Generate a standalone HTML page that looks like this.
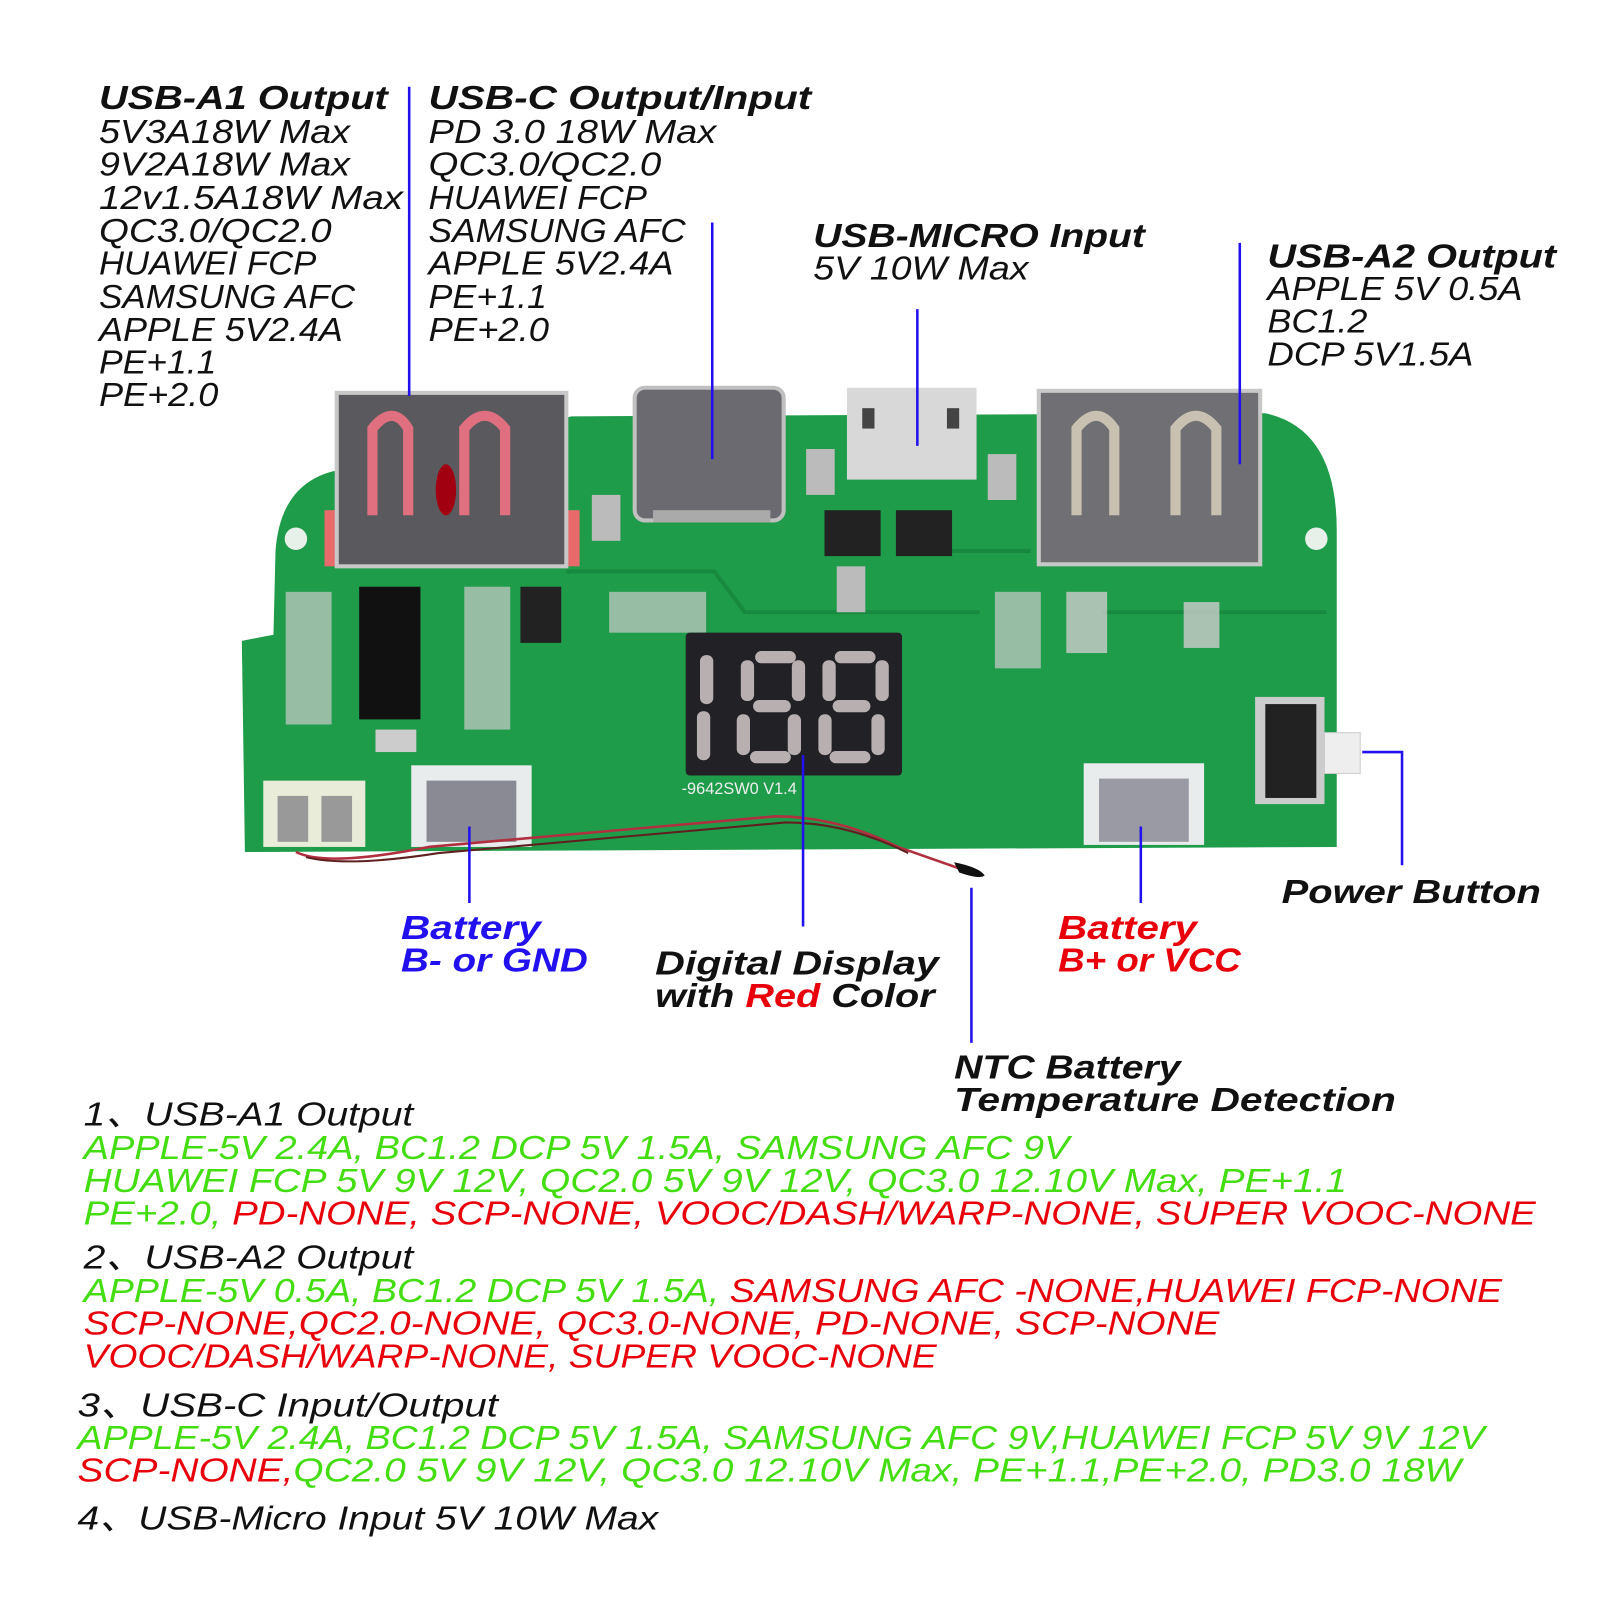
<!DOCTYPE html>
<html><head><meta charset="utf-8"><style>
html,body{margin:0;padding:0;background:#fff;}
svg{display:block}
text{font-family:"Liberation Sans",sans-serif;font-style:italic;}
.h{font-weight:bold;font-size:33px;fill:#111}
.t{font-size:33px;fill:#111}
.g{fill:#44dd11}.r{fill:#e8000b}.b{fill:#2211ee}
</style></head><body>
<svg width="1600" height="1600" viewBox="0 0 1568 1568" xmlns="http://www.w3.org/2000/svg">
<rect width="1568" height="1568" fill="#fff"/>
<path d="M237 628 L268 622 L270 540 Q275 470 335 460 L560 408 L1240 405 Q1310 420 1310 520 L1310 830 L240 835 Z" fill="#1e9c4a"/>
<path d="M555 560 L700 560 L730 600 L960 600" stroke="#178a3f" stroke-width="4" fill="none"/>
<path d="M880 540 L1010 540 M1080 600 L1300 600" stroke="#178a3f" stroke-width="4" fill="none"/>
<circle cx="290" cy="528" r="11" fill="#e8f0ea"/><circle cx="1290" cy="528" r="11" fill="#e8f0ea"/>
<rect x="318" y="500" width="18" height="55" fill="#e86a6a"/><rect x="550" y="500" width="18" height="55" fill="#e86a6a"/>
<rect x="330" y="385" width="225" height="170" fill="#5a5a5e" stroke="#c8c8c8" stroke-width="4"/>
<path d="M365 505 L365 420 Q385 395 400 420 L400 505 M455 505 L455 420 Q475 395 495 420 L495 505" stroke="#e07080" stroke-width="10" fill="none"/>
<ellipse cx="437" cy="480" rx="10" ry="25" fill="#a00010"/>
<rect x="622" y="380" width="146" height="130" rx="10" fill="#6a6a70" stroke="#c0c0c0" stroke-width="4"/>
<rect x="640" y="500" width="115" height="12" fill="#aaa"/>
<rect x="830" y="380" width="127" height="90" fill="#d8d8d8"/>
<rect x="845" y="400" width="12" height="20" fill="#444"/><rect x="928" y="400" width="12" height="20" fill="#444"/>
<rect x="1018" y="383" width="217" height="170" fill="#707074" stroke="#c8c8c8" stroke-width="4"/>
<path d="M1055 505 L1055 420 Q1075 395 1092 420 L1092 505 M1152 505 L1152 420 Q1172 395 1192 420 L1192 505" stroke="#c8c0b0" stroke-width="10" fill="none"/>
<rect x="580" y="485" width="28" height="45" fill="#bbb"/><rect x="790" y="440" width="28" height="45" fill="#bbb"/>
<rect x="968" y="445" width="28" height="45" fill="#bbb"/><rect x="808" y="500" width="55" height="45" fill="#222"/>
<rect x="878" y="500" width="55" height="45" fill="#222"/><rect x="820" y="555" width="28" height="45" fill="#bbb"/>
<rect x="352" y="575" width="60" height="130" fill="#111"/>
<rect x="280" y="580" width="45" height="130" fill="#ccc" opacity=".7"/>
<rect x="455" y="575" width="45" height="140" fill="#ccc" opacity=".7"/>
<rect x="510" y="575" width="40" height="55" fill="#222"/>
<rect x="597" y="580" width="95" height="40" fill="#ccc" opacity=".7"/>
<rect x="975" y="580" width="45" height="75" fill="#ccc" opacity=".7"/>
<rect x="1045" y="580" width="40" height="60" fill="#ccc" opacity=".8"/>
<rect x="1160" y="590" width="35" height="45" fill="#ccc" opacity=".8"/>
<rect x="368" y="715" width="40" height="22" fill="#ccc"/>
<rect x="672" y="620" width="212" height="140" rx="4" fill="#222226"/>
<g fill="#b8b0b0">
<rect x="686" y="642" width="13" height="48" rx="6"/><rect x="683" y="697" width="13" height="48" rx="6"/>
<rect x="740" y="638" width="40" height="12" rx="6"/><rect x="738" y="686" width="37" height="12" rx="6"/><rect x="735" y="736" width="40" height="12" rx="6"/>
<rect x="726" y="647" width="13" height="40" rx="6"/><rect x="776" y="647" width="13" height="40" rx="6"/>
<rect x="722" y="700" width="13" height="40" rx="6"/><rect x="772" y="700" width="13" height="40" rx="6"/>
<rect x="818" y="638" width="40" height="12" rx="6"/><rect x="816" y="686" width="37" height="12" rx="6"/><rect x="813" y="736" width="40" height="12" rx="6"/>
<rect x="806" y="647" width="13" height="40" rx="6"/><rect x="858" y="647" width="13" height="40" rx="6"/>
<rect x="802" y="700" width="13" height="40" rx="6"/><rect x="854" y="700" width="13" height="40" rx="6"/>
</g>
<text x="668" y="778" style="font-style:normal;font-size:16px;fill:#eee">-9642SW0 V1.4</text>
<rect x="258" y="765" width="100" height="65" fill="#e8ecd8"/><rect x="272" y="780" width="30" height="45" fill="#999"/><rect x="315" y="780" width="30" height="45" fill="#999"/>
<rect x="403" y="750" width="118" height="80" fill="#e8ecec"/><rect x="418" y="765" width="88" height="60" fill="#8a8a95"/>
<rect x="1062" y="748" width="118" height="80" fill="#e8ecec"/><rect x="1077" y="763" width="88" height="62" fill="#9a9aa5"/>
<rect x="1230" y="683" width="68" height="105" fill="#ccc"/><rect x="1240" y="690" width="50" height="92" fill="#222"/>
<rect x="1298" y="718" width="35" height="40" fill="#eee" stroke="#ccc"/>
<path d="M290 835 Q320 850 420 830 L760 800 Q820 800 880 830 L960 858" stroke="#b03040" stroke-width="2.5" fill="none"/>
<path d="M300 840 Q340 850 430 836 L770 806 Q830 806 890 836" stroke="#602020" stroke-width="2" fill="none"/>
<path d="M935 845 Q960 850 965 858 Q960 862 940 855 Z" fill="#111"/>
<g stroke="#2211ee" stroke-width="2.5" fill="none">
<path d="M401 85 V388"/><path d="M698 218 V450"/><path d="M899 303 V437"/><path d="M1215 238 V455"/>
<path d="M460 810 V885"/><path d="M787 740 V908"/><path d="M952 870 V1022"/><path d="M1118 810 V885"/>
<path d="M1335 737 H1374 V848"/>
</g>
<text class="h" x="97" y="107" textLength="283" lengthAdjust="spacingAndGlyphs">USB-A1 Output</text>
<g class="t">
<text x="97" y="140" textLength="246" lengthAdjust="spacingAndGlyphs">5V3A18W Max</text>
<text x="97" y="172" textLength="246" lengthAdjust="spacingAndGlyphs">9V2A18W Max</text>
<text x="97" y="205" textLength="298" lengthAdjust="spacingAndGlyphs">12v1.5A18W Max</text>
<text x="97" y="237" textLength="228" lengthAdjust="spacingAndGlyphs">QC3.0/QC2.0</text>
<text x="97" y="269" textLength="213" lengthAdjust="spacingAndGlyphs">HUAWEI FCP</text>
<text x="97" y="302" textLength="251" lengthAdjust="spacingAndGlyphs">SAMSUNG AFC</text>
<text x="97" y="334" textLength="239" lengthAdjust="spacingAndGlyphs">APPLE 5V2.4A</text>
<text x="97" y="366" textLength="115" lengthAdjust="spacingAndGlyphs">PE+1.1</text>
<text x="97" y="398" textLength="117" lengthAdjust="spacingAndGlyphs">PE+2.0</text>
</g>
<text class="h" x="420" y="107" textLength="375" lengthAdjust="spacingAndGlyphs">USB-C Output/Input</text>
<g class="t">
<text x="420" y="140" textLength="282" lengthAdjust="spacingAndGlyphs">PD 3.0 18W Max</text>
<text x="420" y="172" textLength="228" lengthAdjust="spacingAndGlyphs">QC3.0/QC2.0</text>
<text x="420" y="205" textLength="214" lengthAdjust="spacingAndGlyphs">HUAWEI FCP</text>
<text x="420" y="237" textLength="252" lengthAdjust="spacingAndGlyphs">SAMSUNG AFC</text>
<text x="420" y="269" textLength="240" lengthAdjust="spacingAndGlyphs">APPLE 5V2.4A</text>
<text x="420" y="302" textLength="116" lengthAdjust="spacingAndGlyphs">PE+1.1</text>
<text x="420" y="334" textLength="118" lengthAdjust="spacingAndGlyphs">PE+2.0</text>
</g>
<text class="h" x="797" y="242" textLength="325" lengthAdjust="spacingAndGlyphs">USB-MICRO Input</text>
<text class="t" x="797" y="274" textLength="211" lengthAdjust="spacingAndGlyphs">5V 10W Max</text>
<text class="h" x="1242" y="262" textLength="283" lengthAdjust="spacingAndGlyphs">USB-A2 Output</text>
<g class="t">
<text x="1242" y="294" textLength="250" lengthAdjust="spacingAndGlyphs">APPLE 5V 0.5A</text>
<text x="1242" y="326" textLength="98" lengthAdjust="spacingAndGlyphs">BC1.2</text>
<text x="1242" y="358" textLength="202" lengthAdjust="spacingAndGlyphs">DCP 5V1.5A</text>
</g>
<text class="h b" x="393" y="920" textLength="137" lengthAdjust="spacingAndGlyphs">Battery</text>
<text class="h b" x="393" y="952" textLength="183" lengthAdjust="spacingAndGlyphs">B- or GND</text>
<text class="h" x="642" y="955" textLength="278" lengthAdjust="spacingAndGlyphs">Digital Display</text>
<text class="h" x="642" y="987" textLength="274" lengthAdjust="spacingAndGlyphs">with <tspan class="r">Red</tspan> Color</text>
<text class="h r" x="1037" y="920" textLength="136" lengthAdjust="spacingAndGlyphs">Battery</text>
<text class="h r" x="1037" y="952" textLength="179" lengthAdjust="spacingAndGlyphs">B+ or VCC</text>
<text class="h" x="1256" y="885" textLength="254" lengthAdjust="spacingAndGlyphs">Power Button</text>
<text class="h" x="935" y="1057" textLength="222" lengthAdjust="spacingAndGlyphs">NTC Battery</text>
<text class="h" x="935" y="1089" textLength="433" lengthAdjust="spacingAndGlyphs">Temperature Detection</text>
<g class="t">
<text x="82" y="1103" textLength="323" lengthAdjust="spacingAndGlyphs" style="font-family:'Liberation Sans','Noto Sans CJK SC',sans-serif">1、USB-A1 Output</text>
<text class="g" x="82" y="1136" textLength="966" lengthAdjust="spacingAndGlyphs">APPLE-5V 2.4A,  BC1.2 DCP 5V 1.5A,  SAMSUNG AFC 9V</text>
<text class="g" x="82" y="1168" textLength="1238" lengthAdjust="spacingAndGlyphs">HUAWEI FCP 5V 9V 12V,  QC2.0 5V 9V 12V,  QC3.0 12.10V Max,  PE+1.1</text>
<text x="82" y="1200" textLength="1423" lengthAdjust="spacingAndGlyphs"><tspan class="g">PE+2.0,  </tspan><tspan class="r">PD-NONE,  SCP-NONE,  VOOC/DASH/WARP-NONE,  SUPER VOOC-NONE</tspan></text>
<text x="82" y="1243" textLength="323" lengthAdjust="spacingAndGlyphs" style="font-family:'Liberation Sans','Noto Sans CJK SC',sans-serif">2、USB-A2 Output</text>
<text x="82" y="1276" textLength="1390" lengthAdjust="spacingAndGlyphs"><tspan class="g">APPLE-5V 0.5A,  BC1.2 DCP 5V 1.5A,  </tspan><tspan class="r">SAMSUNG AFC -NONE,HUAWEI FCP-NONE</tspan></text>
<text class="r" x="82" y="1308" textLength="1113" lengthAdjust="spacingAndGlyphs">SCP-NONE,QC2.0-NONE,  QC3.0-NONE,  PD-NONE,  SCP-NONE</text>
<text class="r" x="82" y="1340" textLength="836" lengthAdjust="spacingAndGlyphs">VOOC/DASH/WARP-NONE,  SUPER VOOC-NONE</text>
<text x="76" y="1388" textLength="412" lengthAdjust="spacingAndGlyphs" style="font-family:'Liberation Sans','Noto Sans CJK SC',sans-serif">3、USB-C Input/Output</text>
<text class="g" x="76" y="1420" textLength="1379" lengthAdjust="spacingAndGlyphs">APPLE-5V 2.4A,  BC1.2 DCP 5V 1.5A,  SAMSUNG AFC 9V,HUAWEI FCP 5V 9V 12V</text>
<text x="76" y="1452" textLength="1356" lengthAdjust="spacingAndGlyphs"><tspan class="r">SCP-NONE,</tspan><tspan class="g">QC2.0 5V 9V 12V,  QC3.0 12.10V Max,  PE+1.1,PE+2.0,  PD3.0 18W</tspan></text>
<text x="76" y="1499" textLength="569" lengthAdjust="spacingAndGlyphs" style="font-family:'Liberation Sans','Noto Sans CJK SC',sans-serif">4、USB-Micro Input 5V 10W Max</text>
</g>
</svg>
</body></html>
